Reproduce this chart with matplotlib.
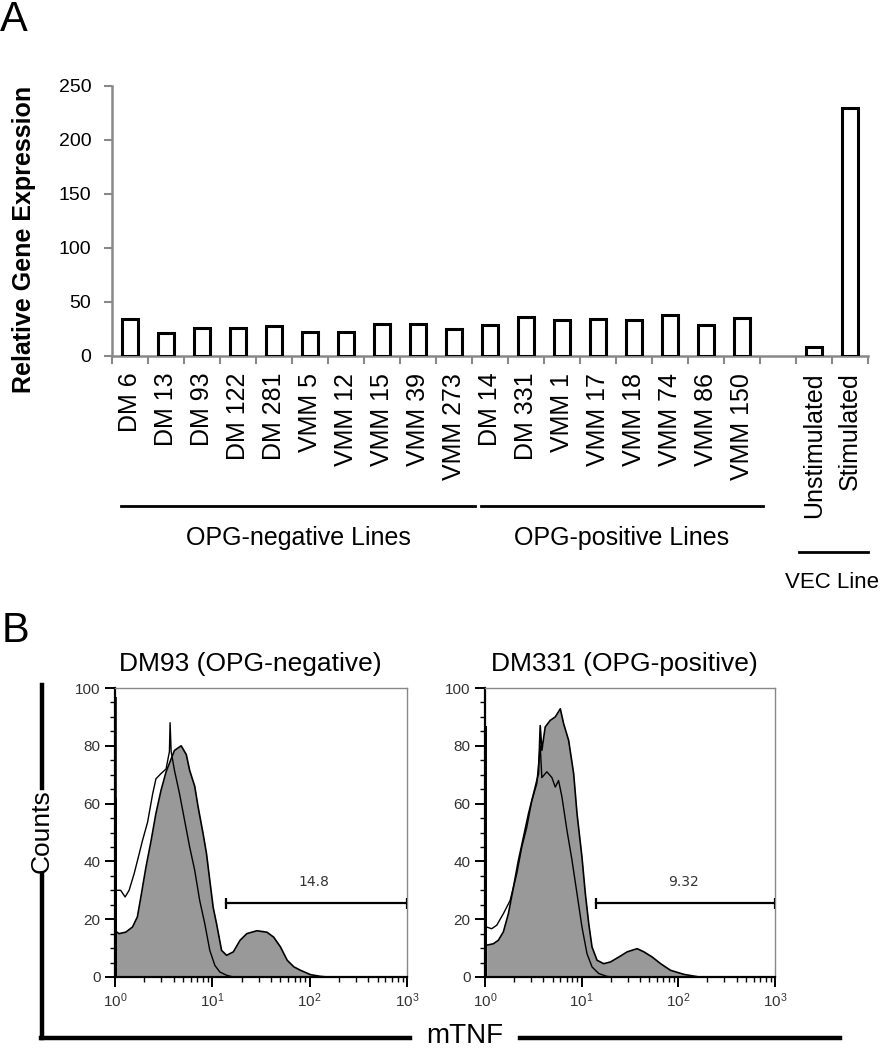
import numpy as np
import matplotlib
matplotlib.use("Agg")
import matplotlib.pyplot as plt
from matplotlib.lines import Line2D
import matplotlib.transforms as mtransforms
from matplotlib.ticker import LogLocator, MultipleLocator, FixedLocator

plt.rcParams['font.family'] = ['Liberation Sans', 'DejaVu Sans']

# ---- panel A data ----
line_names = ['DM 6', 'DM 13', 'DM 93', 'DM 122', 'DM 281', 'VMM 5', 'VMM 12',
              'VMM 15', 'VMM 39', 'VMM 273', 'DM 14', 'DM 331', 'VMM 1',
              'VMM 17', 'VMM 18', 'VMM 74', 'VMM 86', 'VMM 150',
              'Unstimulated', 'Stimulated']
expression = [34, 21, 26, 25.5, 27.5, 22, 22, 29.5, 30, 25,
              29, 36.5, 33, 34, 33, 38, 29, 35,
              8.5, 230]
slot = [0, 1, 2, 3, 4, 5, 6, 7, 8, 9, 10, 11, 12, 13, 14, 15, 16, 17, 19, 20]
groups = [('OPG-negative Lines', 0, 9), ('OPG-positive Lines', 10, 17)]
vec_group = ('VEC Line', 19, 20)

# ---- panel B data (x = log10 mTNF, y = counts) ----
neg_stim_x = [0.0, 0.041, 0.11, 0.18, 0.23, 0.266, 0.318, 0.37, 0.42, 0.473, 0.525,
              0.56, 0.611, 0.68, 0.732, 0.767, 0.819, 0.853, 0.905, 0.94, 0.974,
              1.009, 1.043, 1.095, 1.147, 1.216, 1.285, 1.354, 1.458, 1.561, 1.63,
              1.7, 1.769, 1.838, 1.907, 2.01, 2.114, 2.183]
neg_stim_y = [16, 15, 15.5, 17.3, 20.8, 27.7, 38, 47, 56.5, 64.6, 71,
              74, 78.4, 80, 77, 71.5, 66, 59, 49.6, 42.7, 33.4,
              24, 18.5, 9.2, 7.5, 8.7, 12.7, 15, 16, 15.5, 13.8,
              10.4, 5.8, 3.5, 2.3, 0.8, 0.2, 0]
neg_ctrl_x = [0.01, 0.024, 0.058, 0.104, 0.145, 0.197, 0.249, 0.283, 0.335, 0.387,
              0.421, 0.473, 0.525, 0.559, 0.566, 0.577, 0.611, 0.663, 0.715, 0.767,
              0.819, 0.87, 0.922, 0.974, 1.026, 1.078, 1.147, 1.216]
neg_ctrl_y = [30, 30, 30, 27.7, 30, 35.8, 42.7, 47.3, 53.6, 63.4,
              68.6, 70.4, 72, 78, 88, 78, 71.5, 63.4, 54.2, 45,
              36.9, 26.5, 18.5, 9.2, 4, 1.7, 0.6, 0]
neg_spikes = [97, 62]
neg_gate = (10 ** 1.14, 1000, 25.5, '14.8')

pos_stim_x = [0.017, 0.087, 0.138, 0.19, 0.242, 0.294, 0.346, 0.398, 0.45, 0.502,
              0.554, 0.571, 0.588, 0.623, 0.675, 0.727, 0.779, 0.813, 0.865, 0.917,
              0.952, 1.003, 1.038, 1.073, 1.107, 1.159, 1.228, 1.298, 1.384, 1.471,
              1.574, 1.644, 1.73, 1.817, 1.92, 2.059, 2.215]
pos_stim_y = [11, 11.5, 12.7, 15.6, 21.9, 31, 40.4, 48.4, 56.5, 63.4,
              70.4, 87, 78.4, 86.5, 88.8, 90, 92.8, 87.7, 81.9, 70.4,
              56.5, 41.5, 28.8, 18.5, 10.4, 5.8, 4.6, 5.2, 6.9, 8.7,
              9.8, 8.7, 6.9, 4.6, 2.3, 0.9, 0]
pos_ctrl_x = [0.017, 0.069, 0.121, 0.19, 0.26, 0.329, 0.381, 0.433, 0.484, 0.536,
              0.571, 0.588, 0.64, 0.692, 0.727, 0.761, 0.796, 0.848, 0.9, 0.952,
              1.003, 1.055, 1.107, 1.176, 1.263, 1.332]
pos_ctrl_y = [17.3, 16.7, 17.9, 21.9, 26.5, 35.8, 45, 51.9, 61, 66.9,
              80, 69, 71, 69, 65.7, 68, 62.3, 50.7, 40.4, 28.8,
              17.3, 8.1, 3.5, 1.2, 0.2, 0]
pos_spikes = [48, 87]
pos_gate = (10 ** 1.15, 1000, 25.5, '9.32')

W, H = 883, 1050
fig = plt.figure(figsize=(W / 100, H / 100), dpi=100)


def fx(px):
    return px / W


def fy(py):
    return 1 - py / H


# ================= panel A =================
axA = fig.add_axes([fx(112), fy(356), fx(868 - 112), (356 - 86) / H])
axA.bar(slot, expression, width=0.42, facecolor='white', edgecolor='black',
        linewidth=2.2, zorder=3)
axA.set_xlim(-0.5, 20.5)
axA.set_ylim(0, 250)
axA.yaxis.set_major_locator(MultipleLocator(50))
axA.set_xticks(slot)
axA.set_xticklabels(line_names, rotation=90, fontsize=18, va='top')
axA.xaxis.set_minor_locator(FixedLocator(np.arange(-0.5, 21, 1)))
axA.tick_params(axis='x', which='major', length=0, pad=12)
axA.tick_params(axis='x', which='minor', length=6, width=1.5, color='#888888',
                direction='out')
axA.tick_params(axis='y', length=6, width=1.5, color='#888888', labelsize=14,
                pad=9)
for s in ['top', 'right']:
    axA.spines[s].set_visible(False)
for s in ['left', 'bottom']:
    axA.spines[s].set_color('#888888')
    axA.spines[s].set_linewidth(1.8)
axA.set_ylabel('Relative Gene Expression', fontsize=18, fontweight='bold')
axA.yaxis.set_label_coords(-0.101, 0.43)

trA = mtransforms.blended_transform_factory(axA.transData, fig.transFigure)
for name, lo, hi in groups:
    x0, x1 = lo - 0.25, hi + 0.58
    fig.add_artist(Line2D([x0, x1], [fy(506), fy(506)], transform=trA,
                          color='black', lw=2))
    axA.text((x0 + x1) / 2, fy(538), name, transform=trA, ha='center',
             va='center', fontsize=18)
name, lo, hi = vec_group
x0, x1 = lo - 0.42, hi + 0.5
fig.add_artist(Line2D([x0, x1], [fy(552), fy(552)], transform=trA,
                      color='black', lw=2))
fig.text(fx(832), fy(583), name, ha='center', va='center', fontsize=16)

fig.text(fx(0), fy(20), 'A', fontsize=30, va='center', ha='left')
fig.text(fx(2), fy(631), 'B', fontsize=30, va='center', ha='left')


# ================= panel B =================
def histo(rect, title, title_x, sx, sy, cx, cy, spikes, gate):
    ax = fig.add_axes(rect)
    sx = np.power(10.0, sx)
    cx = np.power(10.0, cx)
    ax.fill_between(sx, sy, 0, color='#999999', lw=0, zorder=2)
    ax.plot(sx, sy, color='black', lw=1.2, zorder=3)
    ax.plot(cx, cy, color='black', lw=1.0, zorder=4)
    ax.vlines([1.0, 1.012], 0, spikes, colors='black', lw=[2.6, 1.4], zorder=5)
    g0, g1, gy, glab = gate
    ax.plot([g0, g1], [gy, gy], color='black', lw=1.6, zorder=5)
    ax.vlines([g0, g1], gy - 2, gy + 2, colors='black', lw=1.6, zorder=5)
    ax.text(np.sqrt(g0 * g1) * 0.95, gy + 7.5, glab, ha='center', va='center',
            fontsize=10, color='#333333', family='DejaVu Sans')
    ax.set_xscale('log')
    ax.set_xlim(1.0, 1000)
    ax.set_ylim(0, 100)
    ax.xaxis.set_major_locator(LogLocator(base=10, numticks=5))
    ax.xaxis.set_minor_locator(LogLocator(base=10, subs=np.arange(2, 10), numticks=10))
    ax.yaxis.set_major_locator(MultipleLocator(20))
    ax.yaxis.set_minor_locator(MultipleLocator(5))
    ax.tick_params(which='major', length=7, width=1.4, labelsize=11,
                   labelcolor='#333333', direction='out')
    ax.tick_params(which='minor', length=3.5, width=1.0, direction='out')
    for s in ['top', 'right']:
        ax.spines[s].set_color('#888888')
        ax.spines[s].set_linewidth(1.0)
    for s in ['left', 'bottom']:
        ax.spines[s].set_color('black')
        ax.spines[s].set_linewidth(1.6)
    fig.text(fx(title_x), fy(664), title, fontsize=19, ha='center', va='center')
    return ax


histo([fx(115), fy(977), fx(407 - 115), (977 - 688) / H], 'DM93 (OPG-negative)', 250,
      neg_stim_x, neg_stim_y, neg_ctrl_x, neg_ctrl_y, neg_spikes, neg_gate)
histo([fx(485), fy(977), fx(775 - 485), (977 - 688) / H], 'DM331 (OPG-positive)', 624,
      pos_stim_x, pos_stim_y, pos_ctrl_x, pos_ctrl_y, pos_spikes, pos_gate)

# outer Counts / mTNF frame
lw_frame = 3.2
fig.add_artist(Line2D([fx(42), fx(42)], [fy(685), fy(788)], color='black', lw=lw_frame))
fig.add_artist(Line2D([fx(42), fx(42)], [fy(874), fy(1038)], color='black', lw=lw_frame))
fig.add_artist(Line2D([fx(40.5), fx(410)], [fy(1038), fy(1038)], color='black', lw=lw_frame))
fig.add_artist(Line2D([fx(520), fx(840)], [fy(1038), fy(1038)], color='black', lw=lw_frame))
fig.text(fx(42), fy(831), 'Counts', rotation=90, fontsize=19, ha='center', va='center')
fig.text(fx(465), fy(1036), 'mTNF', fontsize=20, ha='center', va='center')

fig.savefig('out.png', dpi=100)
